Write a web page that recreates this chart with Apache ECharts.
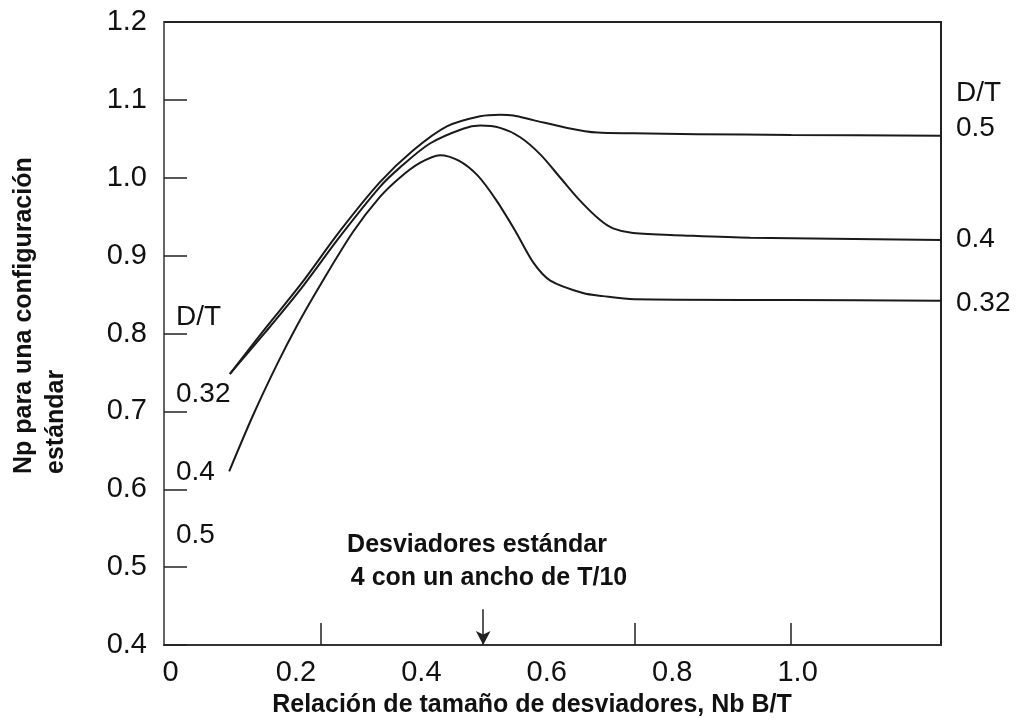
<!DOCTYPE html>
<html>
<head>
<meta charset="utf-8">
<style>
  html, body { margin: 0; padding: 0; background: #fff; }
  #chart { width: 1018px; height: 722px; }
</style>
<script src="https://cdn.jsdelivr.net/npm/echarts@6/dist/echarts.min.js"></script>
</head>
<body>
<div id="chart"></div>
<script>
// ---- data ----
const curve05X = [0.105, 0.161, 0.217, 0.281, 0.344, 0.397, 0.451, 0.504, 0.536, 0.557, 0.589, 0.643, 0.691, 0.748, 0.85, 1.0, 1.239];
const curve05Y = [0.748, 0.806, 0.862, 0.932, 0.994, 1.035, 1.066, 1.079, 1.081, 1.080, 1.074, 1.064, 1.058, 1.057, 1.056, 1.055, 1.054];

const curve04X = [0.105, 0.161, 0.217, 0.281, 0.344, 0.376, 0.424, 0.477, 0.504, 0.536, 0.568, 0.600, 0.632, 0.663, 0.695, 0.716, 0.748, 0.828, 0.935, 1.239];
const curve04Y = [0.748, 0.801, 0.856, 0.925, 0.988, 1.013, 1.044, 1.063, 1.067, 1.064, 1.052, 1.030, 1.000, 0.971, 0.946, 0.935, 0.929, 0.926, 0.923, 0.920];

const curve032X = [0.104, 0.142, 0.180, 0.212, 0.249, 0.301, 0.344, 0.376, 0.408, 0.440, 0.470, 0.500, 0.530, 0.560, 0.589, 0.616, 0.668, 0.700, 0.750, 1.0, 1.239];
const curve032Y = [0.623, 0.695, 0.760, 0.810, 0.862, 0.930, 0.975, 1.000, 1.019, 1.029, 1.022, 1.003, 0.971, 0.932, 0.891, 0.868, 0.852, 0.848, 0.844, 0.843, 0.842];

const xLabelValues = [0, 0.2, 0.4, 0.6, 0.8, 1.0];
const xLabelTexts = ['0', '0.2', '0.4', '0.6', '0.8', '1.0'];
const xTickValues = [0.25, 0.75, 1.0];
const arrowX = 0.509;
const arrowY = [0.446, 0.4];

const xTitle = 'Relación de tamaño de desviadores, Nb B/T';
const yTitle = 'Np para una configuración\nestándar';
const noteText = ['Desviadores estándar', '4 con un ancho de T/10'];

function pairs(xs, ys) { return xs.map((x, i) => [x, ys[i]]); }

const FONT = '"Liberation Sans", Arial, Helvetica, sans-serif';
const chart = echarts.init(document.getElementById('chart'), null, { renderer: 'canvas' });

const lineStyle = { color: '#1a1a1a', width: 2 };
function endLbl(text, dy) {
  return {
    show: true, formatter: text, color: '#111', fontFamily: FONT, fontSize: 28,
    lineHeight: 35, distance: 15, offset: [0, dy], align: 'left'
  };
}

chart.setOption({
  backgroundColor: '#fff',
  animation: false,
  grid: { left: 164, right: 77, top: 22, bottom: 77, containLabel: false, outerBoundsMode: 'none',
          show: true, borderColor: '#222', borderWidth: 2, backgroundColor: 'transparent' },
  xAxis: {
    type: 'value', min: 0, max: 1.239,
    axisLine: { show: true, lineStyle: { color: '#333', width: 2 } },
    axisTick: { show: true, inside: true, length: 22, customValues: xTickValues, lineStyle: { color: '#222', width: 1.5 } },
    axisLabel: {
      customValues: xLabelValues, color: '#111', fontFamily: FONT, fontSize: 29, margin: 13,
      padding: [0, 0, 0, 13],
      formatter: function (v) {
        const i = xLabelValues.findIndex(a => Math.abs(a - v) < 1e-6);
        return i >= 0 ? xLabelTexts[i] : '';
      }
    },
    splitLine: { show: false }
  },
  yAxis: {
    type: 'value', min: 0.4, max: 1.2, interval: 0.1,
    axisLine: { show: true, lineStyle: { color: '#666', width: 2 } },
    axisTick: { show: true, inside: true, length: 23, lineStyle: { color: '#222', width: 1.5 } },
    axisLabel: { color: '#111', fontFamily: FONT, fontSize: 29, margin: 17,
                 formatter: v => v.toFixed(1) },
    splitLine: { show: false }
  },
  series: [
    { name: '0.5', type: 'line', data: pairs(curve05X, curve05Y), smooth: 0.3, showSymbol: false,
      lineStyle: lineStyle, endLabel: endLbl('D/T\n0.5', -25), z: 3 },
    { name: '0.4', type: 'line', data: pairs(curve04X, curve04Y), smooth: 0.3, showSymbol: false,
      lineStyle: lineStyle, endLabel: endLbl('0.4', -1), z: 3 },
    { name: '0.32', type: 'line', data: pairs(curve032X, curve032Y), smooth: 0.3, showSymbol: false,
      lineStyle: lineStyle, endLabel: endLbl('0.32', 2), z: 3,
      markLine: {
        silent: true, symbol: ['none', 'arrow'], symbolSize: [11, 14],
        label: { show: false },
        lineStyle: { color: '#222', width: 1.5, type: 'solid' },
        data: [[{ coord: [arrowX, arrowY[0]] }, { coord: [arrowX, arrowY[1]] }]]
      }
    }
  ],
  graphic: [
    { type: 'text', left: 176, top: 303, style: { text: 'D/T', font: '28px ' + FONT, fill: '#111' } },
    { type: 'text', left: 176, top: 380, style: { text: '0.32', font: '28px ' + FONT, fill: '#111' } },
    { type: 'text', left: 176, top: 458, style: { text: '0.4', font: '28px ' + FONT, fill: '#111' } },
    { type: 'text', left: 176, top: 521, style: { text: '0.5', font: '28px ' + FONT, fill: '#111' } },
    { type: 'text', x: 477, y: 545, style: { text: noteText[0], font: 'bold 25px ' + FONT, fill: '#111', textAlign: 'center', textVerticalAlign: 'middle' } },
    { type: 'text', x: 489, y: 578, style: { text: noteText[1], font: 'bold 25px ' + FONT, fill: '#111', textAlign: 'center', textVerticalAlign: 'middle' } },
    { type: 'text', x: 532, y: 705, style: { text: xTitle, font: 'bold 25px ' + FONT, fill: '#111', textAlign: 'center', textVerticalAlign: 'middle' } },
    { type: 'text', x: 8, y: 474, rotation: Math.PI / 2,
      style: { text: yTitle, font: 'bold 25px ' + FONT, fill: '#111', textAlign: 'left', textVerticalAlign: 'top', lineHeight: 32 } }
  ]
});
</script>
</body>
</html>
